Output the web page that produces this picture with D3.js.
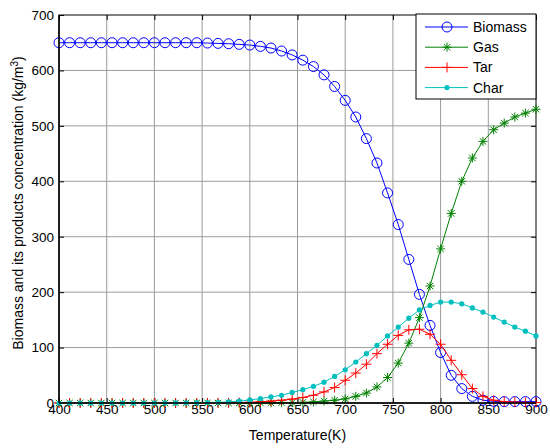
<!DOCTYPE html>
<html lang="en">
<head>
    <meta charset="UTF-8">
    <title>Biomass Pyrolysis Products vs Temperature</title>
    <script src="https://cdn.jsdelivr.net/npm/d3@7"></script>
    <style>
        body { margin: 0; background: #fff; }
        svg { display: block; font-family: "Liberation Sans", Arial, sans-serif; }
        .grid line { stroke: #9c9c9c; stroke-width: 1; }
        .tick text { font-size: 13.5px; fill: #000; }
        .axis-title { font-size: 14px; fill: #000; }
        .legend text { font-size: 14px; fill: #000; }
    </style>
</head>
<body>
    <svg width="550" height="448"></svg>
    <script>
        // temperature samples (K), 46 points between 400 and 900
        const temps = [400, 411.1, 422.2, 433.3, 444.4, 455.6, 466.7, 477.8, 488.9, 500,
                       511.1, 522.2, 533.3, 544.4, 555.6, 566.7, 577.8, 588.9, 600, 611.1,
                       622.2, 633.3, 644.4, 655.6, 666.7, 677.8, 688.9, 700, 711.1, 722.2,
                       733.3, 744.4, 755.6, 766.7, 777.8, 788.9, 800, 811.1, 822.2, 833.3,
                       844.4, 855.6, 866.7, 877.8, 888.9, 900];

        // concentrations in kg/m3
        const biomass = [650, 650, 650, 650, 650, 650, 650, 650, 650, 650,
                         650, 650, 650, 650, 649.4, 648.8, 648.2, 647, 645.8, 643.4,
                         640.4, 635, 628, 618.5, 607, 592, 571, 546, 516, 477,
                         433, 379, 322, 259, 196, 140, 91, 50, 26, 12,
                         5, 3, 2.5, 2.5, 2.5, 2.5];
        const gas = [0, 0, 0, 0, 0, 0, 0, 0, 0, 0,
                     0, 0, 0, 0, 0, 0, 0, 0, 0, 0.1,
                     0.2, 0.4, 0.7, 1.2, 2, 3.5, 5, 7.5, 12, 18,
                     29, 46, 72, 108, 154, 211, 278, 342, 400, 442,
                     472, 493, 505, 516, 523, 530];
        const tar = [0, 0, 0, 0, 0, 0, 0, 0, 0, 0,
                     0, 0, 0, 0, 0, 0.2, 0.4, 0.8, 1.3, 2.2,
                     3.3, 5, 7, 10, 14, 20, 28, 41, 54, 70,
                     89, 106, 122, 132, 133, 124, 106, 77, 51, 26,
                     12, 5, 2.5, 1.5, 1, 0.8];
        const char = [0, 0, 0, 0, 0, 0, 0, 0, 0, 0,
                      0.1, 0.2, 0.3, 0.5, 0.8, 1.2, 2, 3.3, 5.5, 8,
                      11, 14, 19, 24, 30, 37.5, 48, 60, 74, 89,
                      104, 121, 137, 153, 168, 176, 182, 182, 179, 171.5,
                      164, 155, 146, 137, 129.5, 121];

        const xTicks = [400, 450, 500, 550, 600, 650, 700, 750, 800, 850, 900];
        const yTicks = [0, 100, 200, 300, 400, 500, 600, 700];

        const seriesNames = ["Biomass", "Gas", "Tar", "Char"];
        const seriesData = [biomass, gas, tar, char];
        const seriesColors = ["#0000ff", "#008000", "#ff0000", "#00bfbf"];
        const seriesMarkers = ["circle", "star", "plus", "dot"];

        const plot = { left: 59, right: 536, top: 15, bottom: 403 };

        const svg = d3.select("svg");

        const x = d3.scaleLinear().domain([400, 900]).range([plot.left, plot.right]);
        const y = d3.scaleLinear().domain([0, 700]).range([plot.bottom, plot.top]);

        // grid
        const grid = svg.append("g").attr("class", "grid");
        grid.selectAll(".gx").data(xTicks.slice(1, -1)).join("line")
            .attr("x1", d => x(d)).attr("x2", d => x(d))
            .attr("y1", plot.top).attr("y2", plot.bottom);
        grid.selectAll(".gy").data(yTicks.slice(1, -1)).join("line")
            .attr("x1", plot.left).attr("x2", plot.right)
            .attr("y1", d => y(d)).attr("y2", d => y(d));

        // axes, ticks pointing inward
        svg.append("g")
            .attr("transform", `translate(0,${plot.bottom})`)
            .call(d3.axisBottom(x).tickValues(xTicks).tickSize(-5).tickPadding(1));
        svg.append("g")
            .attr("transform", `translate(${plot.left},0)`)
            .call(d3.axisLeft(y).tickValues(yTicks).tickSize(-5).tickPadding(5));
        svg.append("g")
            .attr("transform", `translate(0,${plot.top})`)
            .call(d3.axisTop(x).tickValues(xTicks).tickSize(-5).tickFormat(""));
        svg.append("g")
            .attr("transform", `translate(${plot.right},0)`)
            .call(d3.axisRight(y).tickValues(yTicks).tickSize(-5).tickFormat(""));
        svg.selectAll(".domain").remove();
        svg.selectAll(".tick line").attr("stroke", "#000");

        // frame
        svg.append("rect")
            .attr("x", plot.left).attr("y", plot.top)
            .attr("width", plot.right - plot.left).attr("height", plot.bottom - plot.top)
            .attr("fill", "none").attr("stroke", "#000").attr("stroke-width", 1);

        // marker drawing helper
        function drawMarker(g, type, color) {
            if (type === "circle") {
                g.append("circle").attr("r", 5).attr("fill", "none")
                 .attr("stroke", color).attr("stroke-width", 1);
            } else if (type === "star") {
                g.append("path").attr("d", "M-4.5,0H4.5M0,-4.5V4.5M-3.2,-3.2L3.2,3.2M-3.2,3.2L3.2,-3.2")
                 .attr("stroke", color).attr("stroke-width", 1).attr("fill", "none");
            } else if (type === "plus") {
                g.append("path").attr("d", "M-5,0H5M0,-5V5")
                 .attr("stroke", color).attr("stroke-width", 1).attr("fill", "none");
            } else {
                g.append("circle").attr("r", 2.6).attr("fill", color);
            }
        }

        const line = d3.line()
            .x(d => x(d[0]))
            .y(d => y(d[1]));

        seriesData.forEach((vals, k) => {
            const pts = temps.map((t, i) => [t, vals[i]]);
            const g = svg.append("g");
            g.append("path")
                .datum(pts)
                .attr("fill", "none")
                .attr("stroke", seriesColors[k])
                .attr("stroke-width", 1)
                .attr("d", line);
            g.selectAll(".m").data(pts).join("g")
                .attr("transform", d => `translate(${x(d[0])},${y(d[1])})`)
                .each(function () { drawMarker(d3.select(this), seriesMarkers[k], seriesColors[k]); });
        });

        // thicker axis lines on left and bottom
        svg.append("line").attr("x1", plot.left).attr("x2", plot.right)
            .attr("y1", plot.bottom).attr("y2", plot.bottom)
            .attr("stroke", "#000").attr("stroke-width", 1.5);
        svg.append("line").attr("x1", plot.left).attr("x2", plot.left)
            .attr("y1", plot.top).attr("y2", plot.bottom)
            .attr("stroke", "#000").attr("stroke-width", 1.5);

        // axis titles
        svg.append("text")
            .attr("class", "axis-title")
            .attr("x", (plot.left + plot.right) / 2)
            .attr("y", 440)
            .attr("text-anchor", "middle")
            .text("Temperature(K)");

        const yTitle = svg.append("text")
            .attr("class", "axis-title")
            .attr("transform", `translate(23,${(plot.top + plot.bottom) / 2 - 6}) rotate(-90)`)
            .attr("text-anchor", "middle");
        yTitle.append("tspan").text("Biomass and its products concentration (kg/m");
        yTitle.append("tspan").attr("baseline-shift", "super").attr("font-size", "10px").text("3");
        yTitle.append("tspan").text(")");

        // legend
        const legend = svg.append("g").attr("class", "legend");
        legend.append("rect")
            .attr("x", 416).attr("y", 14).attr("width", 120).attr("height", 85)
            .attr("fill", "#fff").attr("stroke", "#000").attr("stroke-width", 1);
        seriesNames.forEach((name, k) => {
            const ly = 27 + k * 20.2;
            legend.append("line")
                .attr("x1", 425).attr("x2", 468).attr("y1", ly).attr("y2", ly)
                .attr("stroke", seriesColors[k]).attr("stroke-width", 1);
            const mg = legend.append("g").attr("transform", `translate(447,${ly})`);
            drawMarker(mg, seriesMarkers[k], seriesColors[k]);
            legend.append("text")
                .attr("x", 473).attr("y", ly).attr("dy", "0.36em")
                .text(name);
        });
    </script>
</body>
</html>
